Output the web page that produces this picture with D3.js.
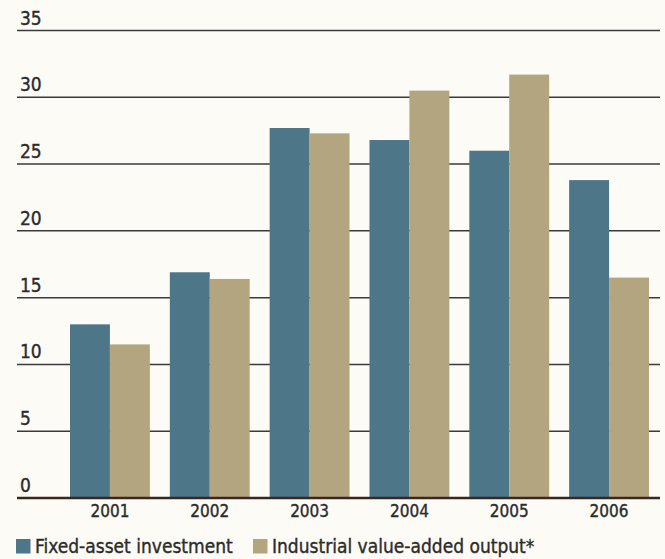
<!DOCTYPE html>
<html>
<head>
<meta charset="utf-8">
<script src="https://cdn.jsdelivr.net/npm/d3@7"></script>
<style>
  html, body { margin: 0; padding: 0; background: #fcfbf6; }
  svg { display: block; }
  text { font-family: "Liberation Sans Narrow", "DejaVu Sans Condensed", "Roboto", sans-serif; font-stretch: condensed; fill: #2b2b2b; stroke: #2b2b2b; stroke-width: 0.35px; }
</style>
</head>
<body>
<script>
// Annual growth, per cent
const years = ["2001", "2002", "2003", "2004", "2005", "2006"];
const fixedAsset = [13.0, 16.9, 27.7, 26.8, 26.0, 23.8];
const industrialOutput = [11.5, 16.4, 27.3, 30.5, 31.7, 16.5];
const yTicks = [0, 5, 10, 15, 20, 25, 30, 35];
const seriesNames = ["Fixed-asset investment", "Industrial value-added output*"];
const seriesColors = ["#4e7689", "#b4a581"];

const W = 665, H = 559;
const svg = d3.select("body").append("svg").attr("width", W).attr("height", H);

const gridLeft = 17, gridRight = 660;
const y = d3.scaleLinear().domain([0, 35]).range([498, 30.5]);
const x = d3.scaleBand().domain(years).range([70, 649]).paddingInner(0.2).paddingOuter(0);
const xs = d3.scaleBand().domain([0, 1]).range([0, x.bandwidth()]);

// horizontal gridlines with their labels sitting on top-left
const grid = svg.append("g");
grid.selectAll("line").data(yTicks.filter(d => d > 0)).join("line")
  .attr("x1", gridLeft).attr("x2", gridRight)
  .attr("y1", d => y(d)).attr("y2", d => y(d))
  .attr("stroke", "#3a3a3a").attr("stroke-width", 1.5);
grid.selectAll("text").data(yTicks).join("text")
  .attr("x", 20).attr("y", d => y(d) - 6)
  .attr("font-size", 19)
  .text(d => d);

// grouped bars
const rows = years.map((yr, i) => ({ yr, vals: [fixedAsset[i], industrialOutput[i]] }));
const groups = svg.append("g").selectAll("g").data(rows).join("g")
  .attr("transform", d => `translate(${x(d.yr)},0)`);
groups.selectAll("rect").data(d => d.vals.map((v, k) => ({ v, k }))).join("rect")
  .attr("x", d => xs(d.k))
  .attr("width", xs.bandwidth())
  .attr("y", d => y(d.v))
  .attr("height", d => y(0) - y(d.v))
  .attr("fill", d => seriesColors[d.k]);

// baseline
svg.append("line")
  .attr("x1", gridLeft).attr("x2", gridRight)
  .attr("y1", y(0)).attr("y2", y(0))
  .attr("stroke", "#3b2622").attr("stroke-width", 2.5);

// year labels
const xAxis = d3.axisBottom(x).tickSize(0).tickPadding(7);
const ax = svg.append("g").attr("transform", `translate(0,${y(0)})`).call(xAxis);
ax.select(".domain").remove();
ax.selectAll("text").attr("font-size", 17).attr("fill", "#2b2b2b")
  .style("font-family", "\"Liberation Sans Narrow\", \"DejaVu Sans Condensed\", Roboto, sans-serif");

// legend
const legend = svg.append("g").attr("transform", "translate(0,553)");
const legendX = [16, 253];
seriesNames.forEach((name, k) => {
  legend.append("rect").attr("x", legendX[k]).attr("y", -14).attr("width", 14.5).attr("height", 14.5)
    .attr("fill", seriesColors[k]);
  legend.append("text").attr("x", legendX[k] + 19).attr("y", 0)
    .attr("font-size", 19).text(name);
});
</script>
</body>
</html>
